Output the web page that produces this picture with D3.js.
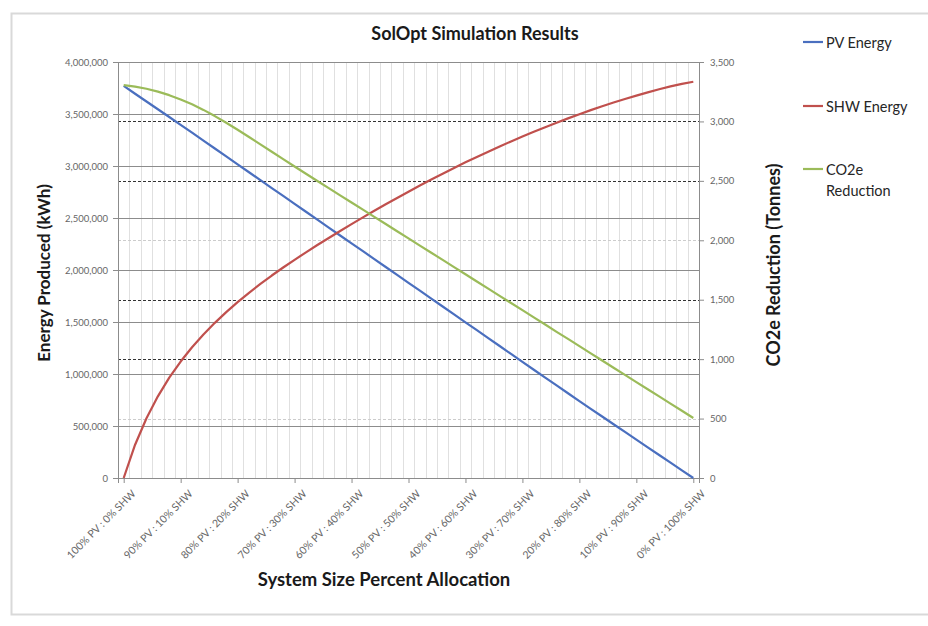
<!DOCTYPE html>
<html>
<head>
<meta charset="utf-8">
<script src="https://cdn.jsdelivr.net/npm/d3@7"></script>
<style>
  html, body { margin: 0; padding: 0; background: #ffffff; }
  svg { display: block; font-family: Lato, "Open Sans", "DejaVu Sans", sans-serif; }
</style>
</head>
<body>
<svg id="chart" width="928" height="626"></svg>
<script>
// SHW share of the system (%) for each simulated allocation step
const shwPct = [0, 2, 4, 6, 8, 10, 12, 14, 16, 18, 20, 22, 24, 26, 28, 30, 32, 34, 36, 38, 40,
  42, 44, 46, 48, 50, 52, 54, 56, 58, 60, 62, 64, 66, 68, 70, 72, 74, 76, 78, 80,
  82, 84, 86, 88, 90, 92, 94, 96, 98, 100];

// Labelled allocation steps on the category axis
const labelPct = [0, 10, 20, 30, 40, 50, 60, 70, 80, 90, 100];
const tickLabels = ["100% PV : 0% SHW", "90% PV : 10% SHW", "80% PV : 20% SHW", "70% PV : 30% SHW",
  "60% PV : 40% SHW", "50% PV : 50% SHW", "40% PV : 60% SHW", "30% PV : 70% SHW",
  "20% PV : 80% SHW", "10% PV : 90% SHW", "0% PV : 100% SHW"];

// PV energy produced (kWh)
const pvEnergy = [3770000, 3695000, 3620000, 3546000, 3471000, 3396000, 3320000, 3244000, 3168000, 3092000,
  3016000, 2940000, 2864000, 2788000, 2712000, 2636000, 2560000, 2484000, 2408000, 2332000,
  2256000, 2181000, 2105000, 2029000, 1953000, 1877000, 1801000, 1725000, 1649000, 1573000,
  1497000, 1421000, 1345000, 1269000, 1193000, 1117000, 1041000, 965000, 890000, 815000,
  740000, 665000, 591000, 517000, 443000, 369000, 295000, 221000, 147000, 73000, 0];

// SHW energy produced (kWh)
const shwEnergy = [0, 320000, 575000, 785000, 965000, 1120000, 1257000, 1380000, 1492000, 1595000,
  1691000, 1781000, 1866000, 1947000, 2024000, 2098000, 2170000, 2240000, 2308000, 2375000,
  2441000, 2506000, 2570000, 2632000, 2693000, 2753000, 2812000, 2870000, 2926000, 2981000,
  3035000, 3087000, 3138000, 3188000, 3236000, 3283000, 3329000, 3373000, 3416000, 3458000,
  3498000, 3537000, 3574000, 3610000, 3644000, 3677000, 3708000, 3738000, 3766000, 3790000, 3810000];

// CO2e reduction (tonnes)
const co2Reduction = [3306, 3293, 3275, 3251, 3221, 3185, 3144, 3097, 3045, 2989,
  2930, 2869, 2807, 2745, 2683, 2621, 2560, 2499, 2439, 2378,
  2318, 2258, 2197, 2137, 2076, 2016, 1955, 1895, 1835, 1774,
  1714, 1653, 1593, 1532, 1472, 1412, 1351, 1291, 1230, 1170,
  1110, 1049, 989, 928, 868, 807, 747, 687, 626, 566, 505];

// Axis ticks
const energyTicks = [0, 500000, 1000000, 1500000, 2000000, 2500000, 3000000, 3500000, 4000000];
const co2Ticks = [0, 500, 1000, 1500, 2000, 2500, 3000, 3500];

const seriesNames = ["PV Energy", "SHW Energy", "CO2e\nReduction"];
const seriesColors = ["#4a6fbf", "#c0504d", "#9bbb59"];

const svg = d3.select("#chart");
const plot = { left: 118, right: 699, top: 62, bottom: 478 };

// Outer chart frame
svg.append("rect")
  .attr("x", 11.5).attr("y", 13.5)
  .attr("width", 940).attr("height", 601)
  .attr("fill", "#ffffff")
  .attr("stroke", "#d9d9d9").attr("stroke-width", 2);

const x = d3.scalePoint().domain(shwPct).range([plot.left, plot.right]).padding(0.5);
const step = x.step();
const yL = d3.scaleLinear().domain([0, 4000000]).range([plot.bottom, plot.top]);
const yR = d3.scaleLinear().domain([0, 3500]).range([plot.bottom, plot.top]);

// Vertical gridlines at category boundaries
const grid = svg.append("g");
grid.selectAll("line.v")
  .data(shwPct.slice(1))
  .join("line")
  .attr("x1", d => Math.round(x(d) - step / 2) + 0.5)
  .attr("x2", d => Math.round(x(d) - step / 2) + 0.5)
  .attr("y1", plot.top).attr("y2", plot.bottom)
  .attr("stroke", "#e0e0e0").attr("stroke-width", 1);

// Horizontal gridlines for the energy axis (solid)
grid.selectAll("line.hl")
  .data(energyTicks)
  .join("line")
  .attr("x1", plot.left).attr("x2", plot.right)
  .attr("y1", d => Math.round(yL(d)) + 0.5)
  .attr("y2", d => Math.round(yL(d)) + 0.5)
  .attr("stroke", "#8c8c8c").attr("stroke-width", 1);

// Horizontal gridlines for the CO2e axis (dashed)
grid.selectAll("line.hr")
  .data(co2Ticks.filter(d => d > 0 && d < 3500))
  .join("line")
  .attr("x1", plot.left).attr("x2", plot.right)
  .attr("y1", d => Math.round(yR(d)) + 0.5)
  .attr("y2", d => Math.round(yR(d)) + 0.5)
  .attr("stroke", d => (d === 500 || d === 2000) ? "#cccccc" : "#333333")
  .attr("stroke-width", 1)
  .attr("stroke-dasharray", "3,2");

// Axes
const axisStyle = g => {
  g.select(".domain").attr("stroke", "#8c8c8c");
  g.selectAll(".tick line").attr("stroke", "#8c8c8c");
  g.selectAll(".tick text").attr("fill", "#666666").style("font-size", "9.5px")
    .style("font-family", "Lato, 'Open Sans', sans-serif");
};

svg.append("g")
  .attr("transform", `translate(${plot.left},0)`)
  .call(d3.axisLeft(yL).tickValues(energyTicks).tickFormat(d3.format(",")).tickSize(5).tickPadding(5))
  .call(axisStyle);

svg.append("g")
  .attr("transform", `translate(${plot.right},0)`)
  .call(d3.axisRight(yR).tickValues(co2Ticks).tickFormat(d3.format(",")).tickSize(5).tickPadding(6))
  .call(axisStyle);

const xAxis = svg.append("g")
  .attr("transform", `translate(0,${plot.bottom})`)
  .call(d3.axisBottom(x).tickValues(labelPct)
    .tickFormat(d => tickLabels[labelPct.indexOf(d)]).tickSize(5).tickPadding(3))
  .call(axisStyle);
xAxis.selectAll(".tick text")
  .attr("text-anchor", "end")
  .attr("dy", "0.35em")
  .attr("transform", "translate(4,8) rotate(-45)")
  .style("font-size", "10.5px");

// Series lines
const line = (vals, scale) => d3.line()
  .x((d, i) => x(shwPct[i]))
  .y(d => scale(d))(vals);

const lines = svg.append("g").attr("fill", "none").attr("stroke-width", 2.2).attr("stroke-linejoin", "round");
lines.append("path").attr("d", line(pvEnergy, yL)).attr("stroke", seriesColors[0]);
lines.append("path").attr("d", line(shwEnergy, yL)).attr("stroke", seriesColors[1]);
lines.append("path").attr("d", line(co2Reduction, yR)).attr("stroke", seriesColors[2]);

// Titles
svg.append("text")
  .attr("x", 475).attr("y", 40)
  .attr("text-anchor", "middle")
  .attr("fill", "#1a1a1a")
  .style("font-size", "18px").style("font-weight", "bold")
  .text("SolOpt Simulation Results");

svg.append("text")
  .attr("transform", "translate(50,273) rotate(-90)")
  .attr("text-anchor", "middle")
  .attr("fill", "#1a1a1a")
  .style("font-size", "17px").style("font-weight", "bold")
  .text("Energy Produced (kWh)");

svg.append("text")
  .attr("transform", "translate(780,265) rotate(-90)")
  .attr("text-anchor", "middle")
  .attr("fill", "#1a1a1a")
  .style("font-size", "18px").style("font-weight", "bold")
  .text("CO2e Reduction (Tonnes)");

svg.append("text")
  .attr("x", 384).attr("y", 586)
  .attr("text-anchor", "middle")
  .attr("fill", "#1a1a1a")
  .style("font-size", "18.5px").style("font-weight", "bold")
  .text("System Size Percent Allocation");

// Legend
const legendY = [42, 106, 169];
const legend = svg.append("g");
seriesNames.forEach((name, i) => {
  legend.append("line")
    .attr("x1", 803).attr("x2", 823)
    .attr("y1", legendY[i]).attr("y2", legendY[i])
    .attr("stroke", seriesColors[i]).attr("stroke-width", 2.2);
  const t = legend.append("text")
    .attr("x", 826).attr("y", legendY[i] + 6)
    .attr("fill", "#262626")
    .style("font-size", "14.5px");
  name.split("\n").forEach((part, j) => {
    t.append("tspan").attr("x", 826).attr("dy", j === 0 ? 0 : 21).text(part);
  });
});
</script>
</body>
</html>
